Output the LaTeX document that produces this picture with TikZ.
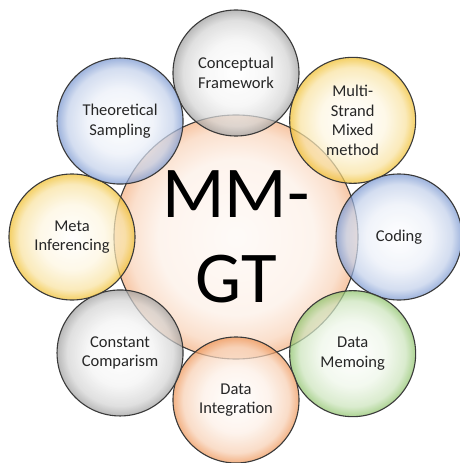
\documentclass[tikz,border=0pt]{standalone}
\usepackage{fontspec}
\setmainfont{Carlito}
\usepackage{tikz}

\definecolor{rimgray}{HTML}{9E9E9E}
\definecolor{rimyellow}{HTML}{F0BE2A}
\definecolor{rimblue}{HTML}{7896D0}
\definecolor{rimgreen}{HTML}{8CC268}
\definecolor{rimorange}{HTML}{EE9455}
\definecolor{hubout}{HTML}{F7C6A4}
\definecolor{bubbleline}{HTML}{3A3A3A}
\definecolor{labelgray}{HTML}{262626}

\pgfdeclareradialshading{bubblegray}{\pgfpoint{0bp}{0bp}}{color(0bp)=(white); color(13bp)=(rimgray!12); color(21bp)=(rimgray!45); color(25bp)=(rimgray); color(50bp)=(rimgray)}
\pgfdeclareradialshading{bubbleyellow}{\pgfpoint{0bp}{0bp}}{color(0bp)=(white); color(13bp)=(rimyellow!15); color(21bp)=(rimyellow!45); color(25bp)=(rimyellow); color(50bp)=(rimyellow)}
\pgfdeclareradialshading{bubbleblue}{\pgfpoint{0bp}{0bp}}{color(0bp)=(white); color(13bp)=(rimblue!15); color(21bp)=(rimblue!45); color(25bp)=(rimblue); color(50bp)=(rimblue)}
\pgfdeclareradialshading{bubblegreen}{\pgfpoint{0bp}{0bp}}{color(0bp)=(white); color(13bp)=(rimgreen!15); color(21bp)=(rimgreen!45); color(25bp)=(rimgreen); color(50bp)=(rimgreen)}
\pgfdeclareradialshading{bubbleorange}{\pgfpoint{0bp}{0bp}}{color(0bp)=(white); color(13bp)=(rimorange!15); color(21bp)=(rimorange!45); color(25bp)=(rimorange); color(50bp)=(rimorange)}
\pgfdeclareradialshading{bubblehub}{\pgfpoint{0bp}{0bp}}{color(0bp)=(hubout!8); color(16bp)=(hubout!20); color(22bp)=(hubout!55); color(25bp)=(hubout); color(50bp)=(hubout)}

\tikzset{
    bubble/.style={circle, draw=bubbleline, line width=1.1pt, minimum size=126pt,
        inner sep=0pt, align=center, font=\fontsize{16.5}{19.5}\selectfont, text=labelgray,
        shading=bubble#1, fill opacity=0.72, text opacity=1},
    hub/.style={circle, draw=bubbleline, line width=1.1pt, minimum size=244pt,
        inner sep=0pt, align=center, font=\fontsize{73}{85}\selectfont,
        shading=bubblehub}
}

\begin{document}
\begin{tikzpicture}[x=1pt,y=1pt]
                \useasboundingbox (-236,-226) rectangle (224,237);
                \coordinate (O) at (0,0);

                \node[hub] (mmgt) at (O) {MM-\\GT};

                \node[bubble=gray] (concept) at (90:164) {Conceptual\\Framework};
                \node[bubble=yellow] (strand) at (45:165) {Multi-\\Strand\\Mixed\\method};
                \node[bubble=blue] (coding) at (0:163) {Coding};
                \node[bubble=green] (memo) at (-45:165) {Data\\Memoing};
                \node[bubble=orange] (integ) at (-90:163) {Data\\Integration};
                \node[bubble=gray] (constant) at (-135:164) {Constant\\Comparism};
                \node[bubble=yellow] (meta) at (180:164) {Meta\\Inferencing};
                \node[bubble=blue] (theory) at (135:164) {Theoretical\\Sampling};
                % \node[bubble=gray] at (O) {};

            \end{tikzpicture}
\end{document}
